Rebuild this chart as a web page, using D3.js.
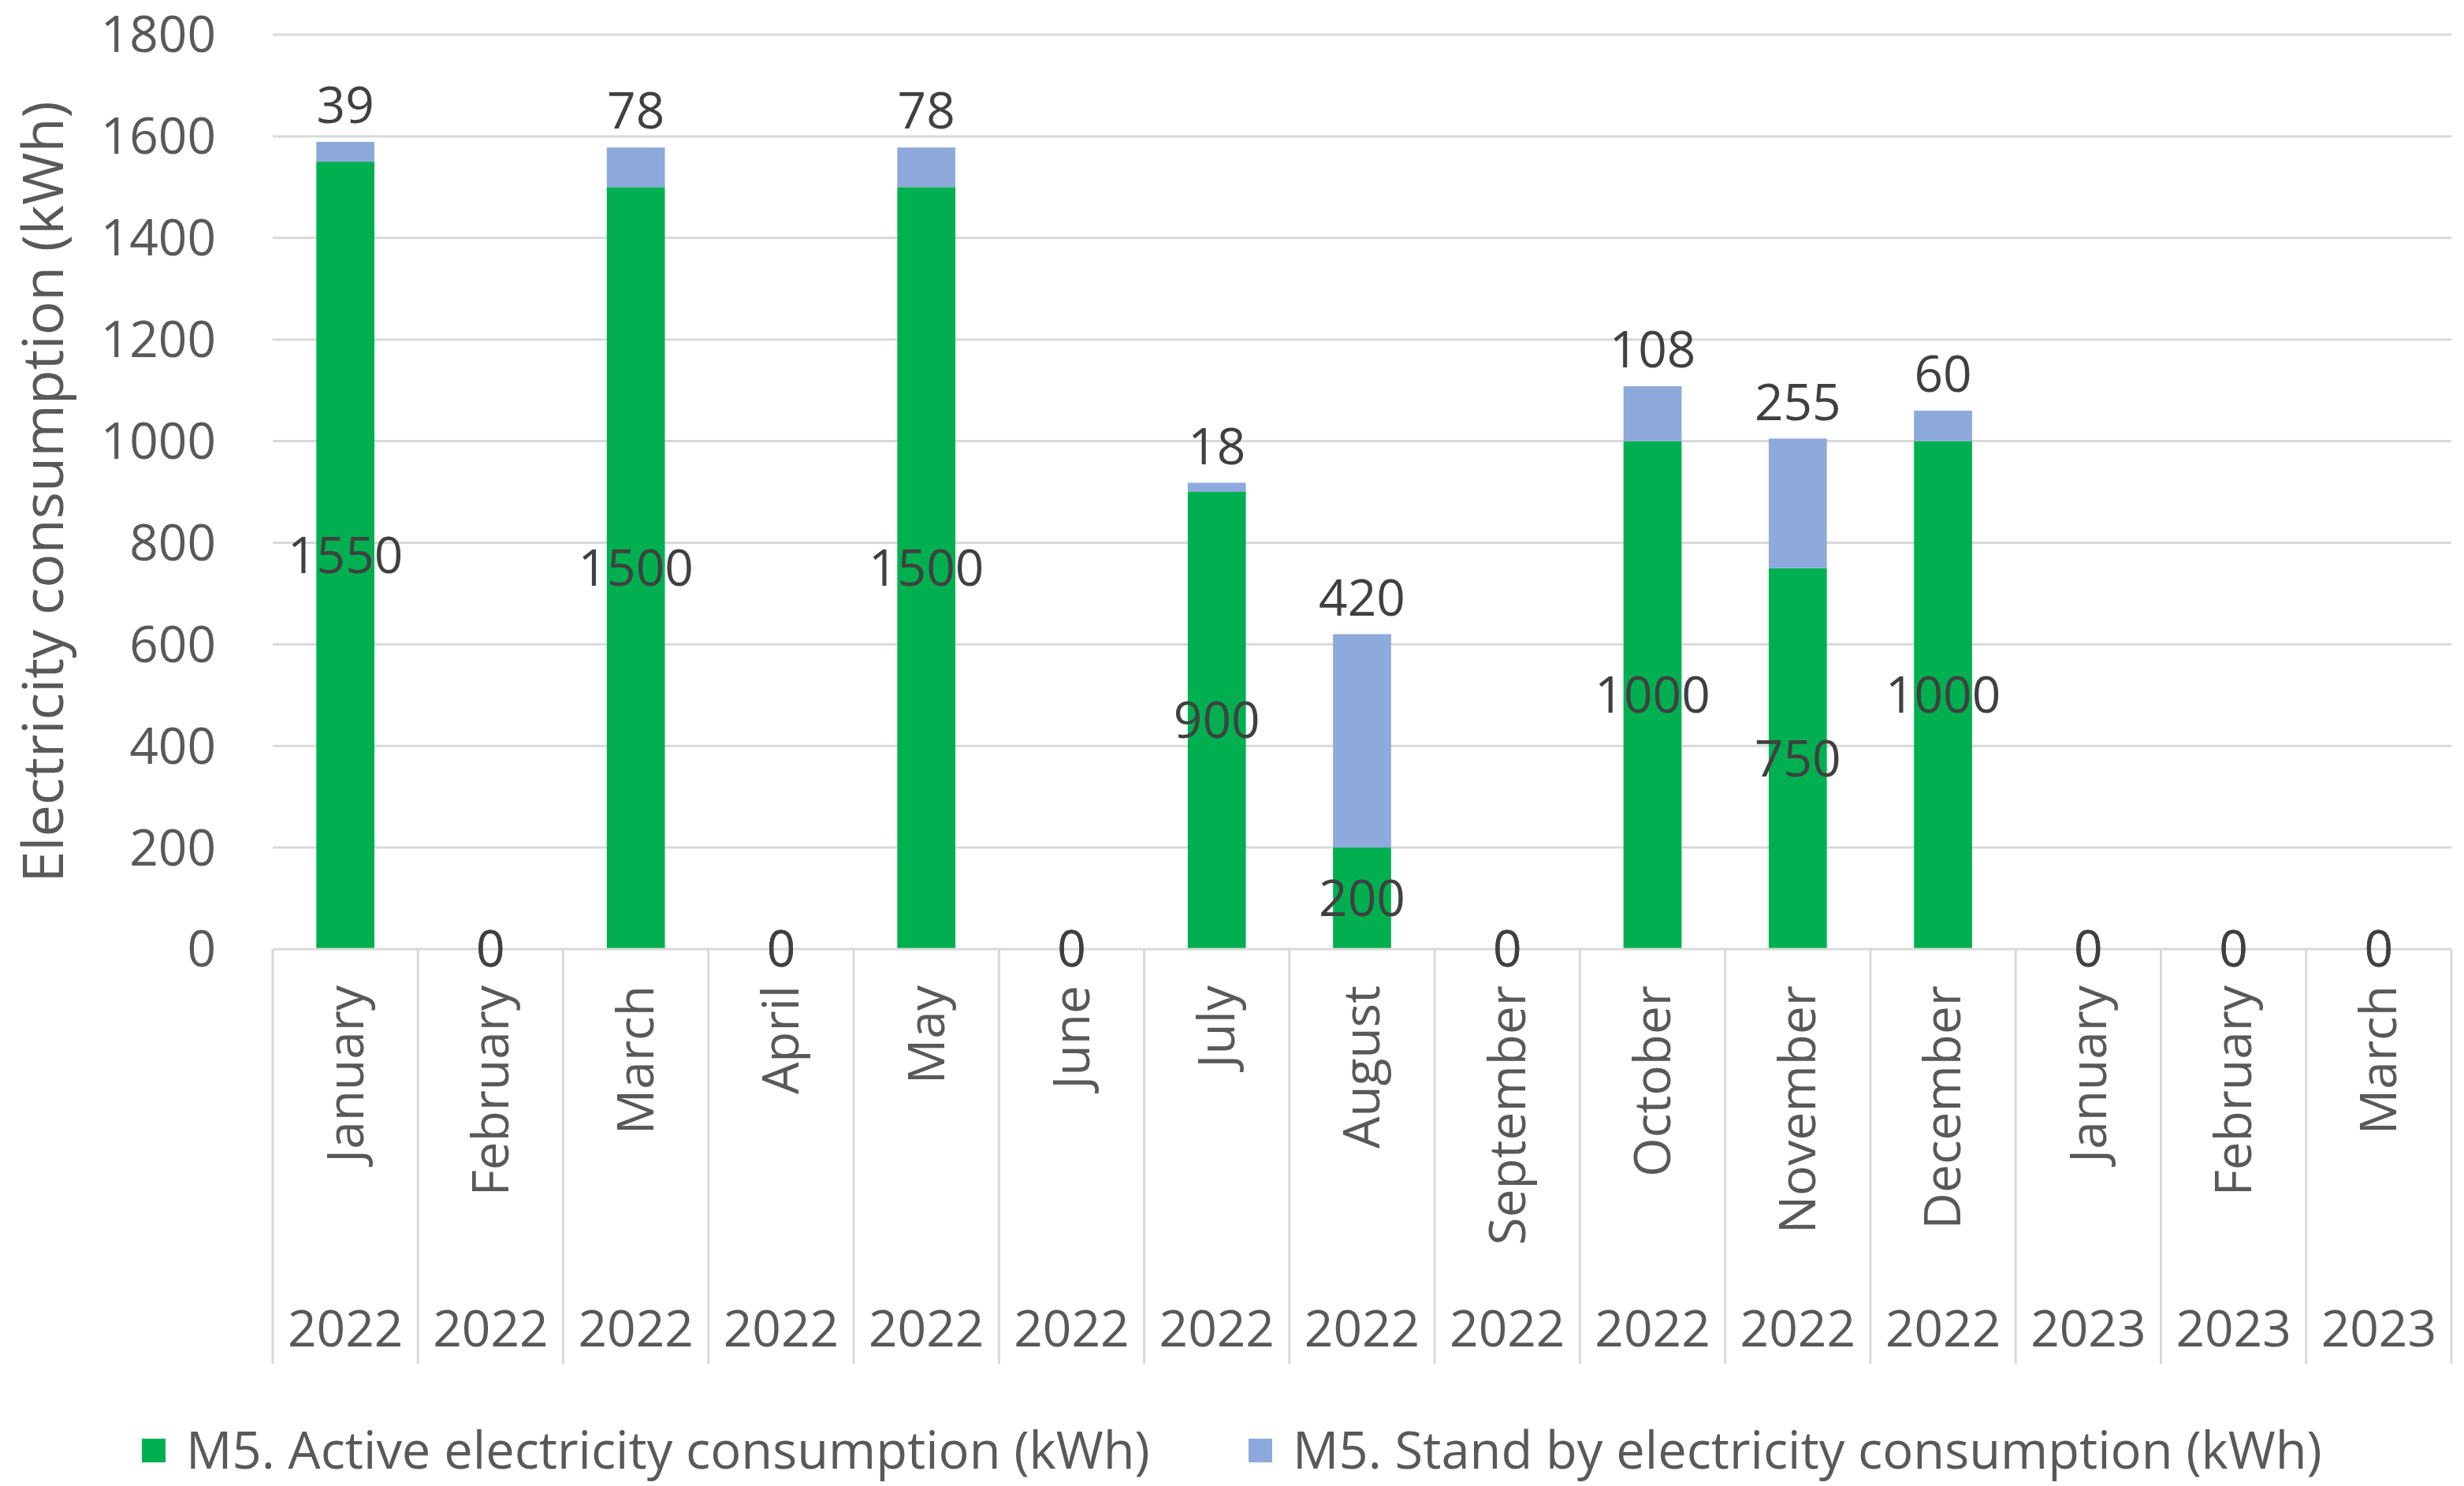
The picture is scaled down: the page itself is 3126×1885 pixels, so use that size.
<!DOCTYPE html>
<html>
<head>
<meta charset="utf-8">
<script src="https://cdn.jsdelivr.net/npm/d3@7"></script>
<style>
  body { margin: 0; background: #fff; }
  svg { display: block; }
  text { font-family: "Open Sans", "Noto Sans", sans-serif; }
</style>
</head>
<body>
<svg id="chart" width="3126" height="1885"></svg>
<script>
const months = ["January","February","March","April","May","June","July","August",
                "September","October","November","December","January","February","March"];
const years = ["2022","2022","2022","2022","2022","2022","2022","2022",
               "2022","2022","2022","2022","2023","2023","2023"];
const active = [1550, 0, 1500, 0, 1500, 0, 900, 200, 0, 1000, 750, 1000, 0, 0, 0];
const standby = [39, 0, 78, 0, 78, 0, 18, 420, 0, 108, 255, 60, 0, 0, 0];
const yTicks = [0, 200, 400, 600, 800, 1000, 1200, 1400, 1600, 1800];
const seriesNames = ["M5. Active electricity consumption (kWh)",
                     "M5. Stand by electricity consumption (kWh)"];
const colors = ["#00B050", "#8EA9DB"];

const svg = d3.select("#chart");
const plotL = 346, plotR = 3110, plotT = 44, plotB = 1204;
const catBottom = 1730;
const fs = 64;

const x = d3.scaleBand()
  .domain(d3.range(months.length))
  .range([plotL, plotR])
  .paddingInner(0.6)
  .paddingOuter(0.3);
const band = (plotR - plotL) / months.length;

const y = d3.scaleLinear().domain([0, 1800]).range([plotB, plotT]);

// gridlines
svg.append("g")
  .selectAll("line")
  .data(yTicks.slice(1))
  .enter().append("line")
    .attr("x1", plotL).attr("x2", plotR)
    .attr("y1", d => y(d)).attr("y2", d => y(d))
    .attr("stroke", "#D9D9D9").attr("stroke-width", 3);

// y tick labels
svg.append("g")
  .selectAll("text")
  .data(yTicks)
  .enter().append("text")
    .attr("x", 274)
    .attr("y", d => y(d))
    .attr("dy", "0.35em")
    .attr("text-anchor", "end")
    .attr("font-size", fs)
    .attr("fill", "#595959")
    .text(d => d);

// y title
svg.append("text")
  .attr("transform", `translate(80, ${(plotT + plotB) / 2}) rotate(-90)`)
  .attr("text-anchor", "middle")
  .attr("font-size", 72)
  .attr("fill", "#595959")
  .text("Electricity consumption (kWh)");

// bars
const stack = months.map((m, i) => ({i, a: active[i], s: standby[i]}));
const bars = svg.append("g");
bars.selectAll("rect.a")
  .data(stack)
  .enter().append("rect")
    .attr("class", "a")
    .attr("x", d => x(d.i))
    .attr("width", x.bandwidth())
    .attr("y", d => y(d.a))
    .attr("height", d => y(0) - y(d.a))
    .attr("fill", colors[0]);
bars.selectAll("rect.s")
  .data(stack)
  .enter().append("rect")
    .attr("class", "s")
    .attr("x", d => x(d.i))
    .attr("width", x.bandwidth())
    .attr("y", d => y(d.a + d.s))
    .attr("height", d => y(d.a) - y(d.a + d.s))
    .attr("fill", colors[1]);

// category axis
const axisG = svg.append("g");
axisG.append("line")
  .attr("x1", plotL).attr("x2", plotR)
  .attr("y1", plotB).attr("y2", plotB)
  .attr("stroke", "#D9D9D9").attr("stroke-width", 3);
axisG.selectAll("line.sep")
  .data(d3.range(months.length + 1))
  .enter().append("line")
    .attr("class", "sep")
    .attr("x1", d => plotL + d * band).attr("x2", d => plotL + d * band)
    .attr("y1", plotB).attr("y2", catBottom)
    .attr("stroke", "#D9D9D9").attr("stroke-width", 3);

axisG.selectAll("text.month")
  .data(months)
  .enter().append("text")
    .attr("class", "month")
    .attr("transform", (d, i) => `translate(${x(i) + x.bandwidth() / 2}, 1250) rotate(-90)`)
    .attr("dy", "0.35em")
    .attr("text-anchor", "end")
    .attr("font-size", fs)
    .attr("fill", "#595959")
    .text(d => d);

axisG.selectAll("text.year")
  .data(years)
  .enter().append("text")
    .attr("class", "year")
    .attr("x", (d, i) => x(i) + x.bandwidth() / 2)
    .attr("y", 1686)
    .attr("dy", "0.35em")
    .attr("text-anchor", "middle")
    .attr("font-size", fs)
    .attr("fill", "#595959")
    .text(d => d);

// data labels (zero stand-by labels sit on the empty segment, like the active ones)
const labels = svg.append("g");
labels.selectAll("text.la")
  .data(stack)
  .enter().append("text")
    .attr("class", "la")
    .attr("x", d => x(d.i) + x.bandwidth() / 2)
    .attr("y", d => y(d.a / 2))
    .attr("dy", "0.35em")
    .attr("text-anchor", "middle")
    .attr("font-size", fs)
    .attr("fill", "#404040")
    .text(d => d.a);
labels.selectAll("text.ls")
  .data(stack)
  .enter().append("text")
    .attr("class", "ls")
    .attr("x", d => x(d.i) + x.bandwidth() / 2)
    .attr("y", d => d.s > 0 ? y(d.a + d.s) - 46 : y(d.a))
    .attr("dy", "0.35em")
    .attr("text-anchor", "middle")
    .attr("font-size", fs)
    .attr("fill", "#404040")
    .text(d => d.s);

// legend
const legendX = [180, 1584];
const legend = svg.append("g");
seriesNames.forEach((name, i) => {
  legend.append("rect")
    .attr("x", legendX[i]).attr("y", 1825)
    .attr("width", 30).attr("height", 30)
    .attr("fill", colors[i]);
  legend.append("text")
    .attr("x", legendX[i] + 56).attr("y", 1840)
    .attr("dy", "0.35em")
    .attr("font-size", 65)
    .attr("fill", "#595959")
    .text(name);
});
</script>
</body>
</html>
